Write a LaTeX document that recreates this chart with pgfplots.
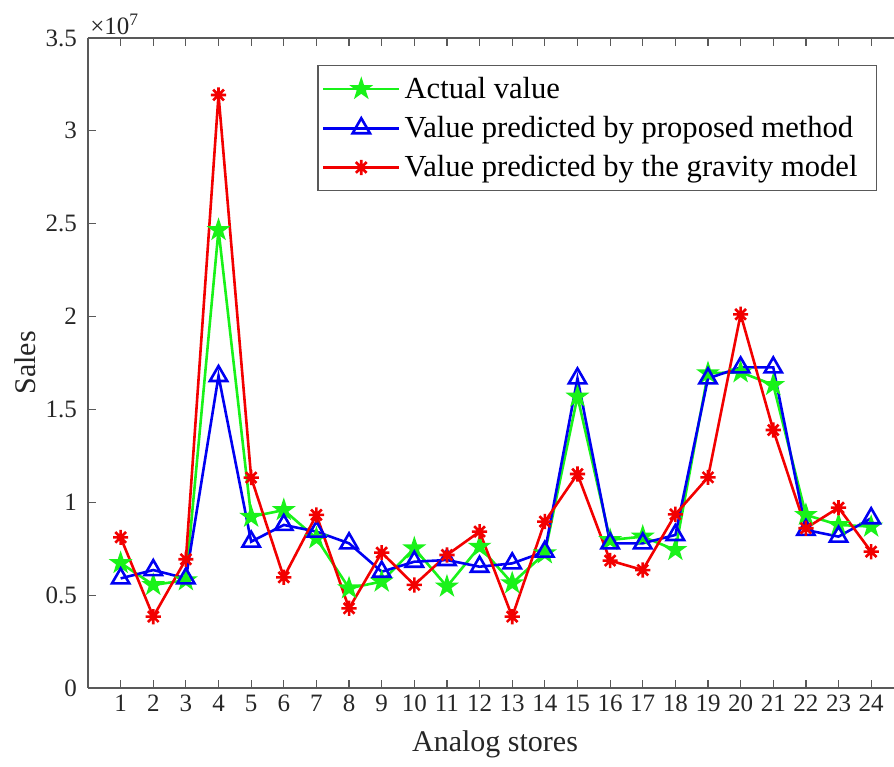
\documentclass[border=0pt]{standalone}
\usepackage{pgfplots}
\pgfplotsset{compat=1.18}
\usepackage{fontspec}
\setmainfont{Liberation Serif}
\pgfdeclareplotmark{pentagram}{%
  \pgfpathmoveto{\pgfpointpolar{90}{\pgfplotmarksize}}%
  \pgfpathlineto{\pgfpointpolar{126}{0.382\pgfplotmarksize}}%
  \pgfpathlineto{\pgfpointpolar{162}{\pgfplotmarksize}}%
  \pgfpathlineto{\pgfpointpolar{198}{0.382\pgfplotmarksize}}%
  \pgfpathlineto{\pgfpointpolar{234}{\pgfplotmarksize}}%
  \pgfpathlineto{\pgfpointpolar{270}{0.382\pgfplotmarksize}}%
  \pgfpathlineto{\pgfpointpolar{306}{\pgfplotmarksize}}%
  \pgfpathlineto{\pgfpointpolar{342}{0.382\pgfplotmarksize}}%
  \pgfpathlineto{\pgfpointpolar{18}{\pgfplotmarksize}}%
  \pgfpathlineto{\pgfpointpolar{54}{0.382\pgfplotmarksize}}%
  \pgfpathclose
  \pgfusepathqfillstroke}
\pgfdeclareplotmark{matast}{%
  \pgfpathmoveto{\pgfqpoint{-\pgfplotmarksize}{0pt}}\pgfpathlineto{\pgfqpoint{\pgfplotmarksize}{0pt}}%
  \pgfpathmoveto{\pgfqpoint{0pt}{-\pgfplotmarksize}}\pgfpathlineto{\pgfqpoint{0pt}{\pgfplotmarksize}}%
  \pgfpathmoveto{\pgfpointpolar{45}{\pgfplotmarksize}}\pgfpathlineto{\pgfpointpolar{225}{\pgfplotmarksize}}%
  \pgfpathmoveto{\pgfpointpolar{135}{\pgfplotmarksize}}\pgfpathlineto{\pgfpointpolar{315}{\pgfplotmarksize}}%
  \pgfusepathqstroke}
\definecolor{mgreen}{rgb}{0.1,0.95,0.1}
\definecolor{mblue}{rgb}{0,0,0.95}
\definecolor{mred}{rgb}{0.95,0,0}
\begin{document}
\begin{tikzpicture}
\begin{axis}[
  name=ax,
  scale only axis,
  width=403pt, height=325pt,
  xmin=0, xmax=24.7, ymin=0, ymax=3.5,
  axis x line=box, axis y line=left,
  axis line style={-, draw=black!65, line width=0.6pt},
  tick style={draw=black!65, line width=0.6pt},
  tick align=inside,
  major tick length=4pt,
  xtick={1,...,24},
  ytick={0,0.5,1,1.5,2,2.5,3,3.5},
  yticklabels={0,0.5,1,1.5,2,2.5,3,3.5},
  /pgf/number format/assume math mode=true,
  ticklabel style={font=\fontsize{12.5}{14}\selectfont, text=black!85},
  xticklabel style={yshift=0pt},
  yticklabel style={xshift=-2pt},
  xlabel={Analog stores},
  ylabel={Sales},
  label style={font=\fontsize{15}{18}\selectfont, text=black!85},
  xlabel style={at={(axis description cs:0.505,0)}, anchor=north, yshift=-18pt},
  ylabel style={at={(axis description cs:-0.064,0.5)}, anchor=south, inner sep=0pt},
  legend style={at={(0.979,0.958)}, anchor=north east, draw=black!65, line width=0.6pt,
    font=\fontsize{15.3}{17}\selectfont, inner xsep=2pt, inner ysep=4.5pt, row sep=5.5pt,
    nodes={inner xsep=2pt, inner ysep=1pt}},
  legend cell align=left,
  legend image code/.code={\draw[mark repeat=2,mark phase=2] plot coordinates {(0pt,0pt) (19pt,0pt) (38pt,0pt)};},
  clip=false,
]
\addplot[color=mgreen, line width=1.3pt, mark=pentagram, mark size=5pt, mark options={fill=mgreen, line width=0.8pt}]
coordinates {(1,0.673) (2,0.555) (3,0.58) (4,2.466) (5,0.922) (6,0.958) (7,0.806) (8,0.537) (9,0.573) (10,0.752) (11,0.546) (12,0.761) (13,0.564) (14,0.725) (15,1.569) (16,0.797) (17,0.815) (18,0.743) (19,1.695) (20,1.70) (21,1.632) (22,0.932) (23,0.878) (24,0.869)};
\addlegendentry{Actual value}
\addplot[color=mblue, line width=1.3pt, mark=triangle, mark size=5pt, mark options={line width=1.3pt}]
coordinates {(1,0.59) (2,0.635) (3,0.59) (4,1.68) (5,0.788) (6,0.878) (7,0.842) (8,0.779) (9,0.626) (10,0.68) (11,0.689) (12,0.653) (13,0.671) (14,0.734) (15,1.667) (16,0.779) (17,0.779) (18,0.824) (19,1.667) (20,1.726) (21,1.726) (22,0.851) (23,0.815) (24,0.914)};
\addlegendentry{Value predicted by proposed method}
\addplot[color=mred, line width=1.3pt, mark=matast, mark size=3.8pt, mark options={line width=1.3pt}]
coordinates {(1,0.811) (2,0.384) (3,0.693) (4,3.193) (5,1.133) (6,0.596) (7,0.932) (8,0.429) (9,0.729) (10,0.555) (11,0.716) (12,0.842) (13,0.384) (14,0.896) (15,1.152) (16,0.686) (17,0.635) (18,0.935) (19,1.134) (20,2.012) (21,1.389) (22,0.86) (23,0.971) (24,0.734)};
\addlegendentry{Value predicted by the gravity model\rule{5.5pt}{0pt}}
\node[anchor=south west, inner sep=0pt, font=\fontsize{12.5}{14}\selectfont, text=black!85] at (rel axis cs:0,1) [xshift=1pt, yshift=1.5pt] {×10\textsuperscript{7}};
\end{axis}
\pgfresetboundingbox
\path[use as bounding box] ([shift={(-44pt,-39.5pt)}]ax.south west) rectangle ([shift={(0pt,19pt)}]ax.north east);
\end{tikzpicture}
\end{document}
